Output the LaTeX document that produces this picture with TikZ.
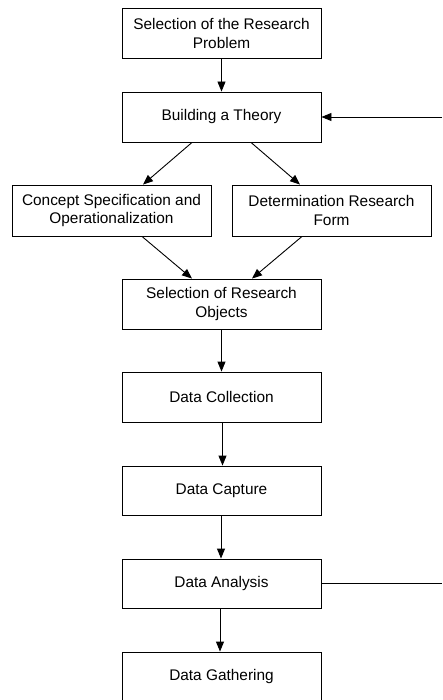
\documentclass[tikz,border=0pt]{standalone}
\usepackage{fontspec}
\setmainfont{Liberation Sans}
\usetikzlibrary{arrows.meta,calc}
\begin{document}
\begin{tikzpicture}[x=1pt,y=-1pt,
  box/.style={draw=black,line width=0.9pt,rectangle,minimum width=199pt,minimum height=50pt,inner sep=0pt,align=center,font=\fontsize{15.4}{18.2}\selectfont},
  arr/.style={draw=black,line width=0.9pt,-{Triangle[length=10pt,width=8pt]}},
  ln/.style={draw=black,line width=0.9pt}]
\fill[white] (0,0) rectangle (442,700);
\useasboundingbox (0,0) rectangle (442,700);
\node[box] (b1) at (221.5,33.5) {Selection of the Research\\Problem};
\node[box] (b2) at (221.5,117) {Building a Theory};
\node[box,minimum height=51pt] (b3) at (111.5,210.5) {Concept Specification and\\Operationalization};
\node[box,minimum height=51pt] (b4) at (331.5,210.5) {Determination Research\\Form};
\node[box] (b5) at (221.5,304) {Selection of Research\\Objects};
\node[box] (b6) at (221.5,397) {Data Collection};
\node[box,minimum height=49pt] (b7) at (221.5,490.5) {Data Capture};
\node[box,minimum height=49pt] (b8) at (221.5,583.5) {Data Analysis};
\node[box] (b9) at (221.5,677) {Data Gathering};
\coordinate (fb1) at (442,117);
\coordinate (fb2) at (442,583.5);
\draw[arr] (b1.south) -- (b2.north);
\draw[arr] ($(b2.south)+(-29.5,0)$) -- ($(b3.north)+(31.5,0)$);
\draw[arr] ($(b2.south)+(29.5,0)$) -- ($(b4.north)+(-31.5,0)$);
\draw[arr] ($(b3.south)+(30.5,0)$) -- ($(b5.north)+(-29.5,0)$);
\draw[arr] ($(b4.south)+(-29.5,0)$) -- ($(b5.north)+(30.5,0)$);
\draw[arr] (b5.south) -- (b6.north);
\draw[arr] ($(b6.south)+(1,0)$) -- ($(b7.north)+(1,0)$);
\draw[arr] ($(b7.south)+(-0.5,0)$) -- ($(b8.north)+(-0.5,0)$);
\draw[arr] ($(b8.south)+(-1.5,0)$) -- ($(b9.north)+(-1.5,0)$);
\draw[arr] (fb1) -- (b2.east);
\draw[ln] (b8.east) -- (fb2);
\end{tikzpicture}
\end{document}
